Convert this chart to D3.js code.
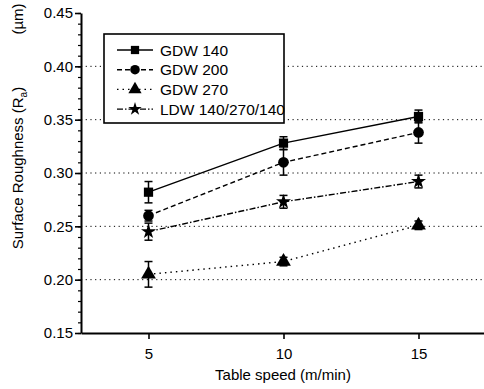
<!DOCTYPE html>
<html>
<head>
<meta charset="utf-8">
<script src="https://cdn.jsdelivr.net/npm/d3@7"></script>
<style>
  body { margin: 0; background: #fff; }
  svg text { font-family: "Liberation Sans", Arial, sans-serif; fill: #000; }
</style>
</head>
<body>
<svg id="chart" width="484" height="389"></svg>
<script>
const speeds = [5, 10, 15]
const seriesNames = ['GDW 140', 'GDW 200', 'GDW 270', 'LDW 140/270/140']
const gdw140 = [0.282, 0.328, 0.353]
const gdw140Err = [0.010, 0.006, 0.006]
const gdw200 = [0.260, 0.310, 0.338]
const gdw200Err = [0.005, 0.012, 0.010]
const gdw270 = [0.205, 0.217, 0.251]
const gdw270Err = [0.012, 0.004, 0.004]
const ldw = [0.245, 0.273, 0.292]
const ldwErr = [0.008, 0.006, 0.006]
const yTicks = [0.15, 0.20, 0.25, 0.30, 0.35, 0.40, 0.45]
const gridValues = [0.20, 0.25, 0.30, 0.35, 0.40]
const xTicks = [5, 10, 15]

const svg = d3.select('#chart')
const margin = { left: 81, top: 13, right: 0, bottom: 56 }
const width = 484, height = 389

const x = d3.scaleLinear().domain([2.5, 17.5]).range([margin.left, 486])
const y = d3.scaleLinear().domain([0.15, 0.45]).range([height - margin.bottom, margin.top])

const series = [
    { name: seriesNames[0], values: gdw140, err: gdw140Err, dash: null, symbol: d3.symbolSquare, size: 85 },
    { name: seriesNames[1], values: gdw200, err: gdw200Err, dash: '5,3', symbol: d3.symbolCircle, size: 90 },
    { name: seriesNames[2], values: gdw270, err: gdw270Err, dash: '1.5,4', symbol: d3.symbolTriangle, size: 95 },
    { name: seriesNames[3], values: ldw, err: ldwErr, dash: '6,2,1.5,2', symbol: d3.symbolStar, size: 70 }
]

// dotted grid lines
svg.append('g')
    .selectAll('line')
    .data(gridValues)
    .join('line')
    .attr('x1', margin.left)
    .attr('x2', width)
    .attr('y1', d => y(d))
    .attr('y2', d => y(d))
    .attr('stroke', '#000')
    .attr('stroke-width', 1)
    .attr('stroke-dasharray', '1.2,3.5')

// y axis: minor ticks first, then major ticks with labels
const yMinor = d3.range(15, 46).map(v => v / 100)
svg.append('g')
    .attr('transform', `translate(${margin.left},0)`)
    .call(d3.axisLeft(y).tickValues(yMinor).tickSize(3).tickFormat(''))
    .call(g => g.select('.domain').remove())
    .selectAll('line').attr('stroke-width', 1.2)

const yAxis = svg.append('g')
    .attr('transform', `translate(${margin.left},0)`)
    .call(d3.axisLeft(y).tickValues(yTicks).tickSize(6).tickSizeOuter(0).tickFormat(d3.format('.2f')))
yAxis.select('.domain').attr('stroke-width', 2)
yAxis.selectAll('line').attr('stroke-width', 1.6)
yAxis.selectAll('text').attr('font-size', 15).attr('x', -8)

const xAxis = svg.append('g')
    .attr('transform', `translate(0,${y(0.15)})`)
    .call(d3.axisBottom(x).tickValues(xTicks).tickSize(6).tickSizeOuter(0))
xAxis.select('.domain').attr('stroke-width', 2)
xAxis.selectAll('line').attr('stroke-width', 1.6)
xAxis.selectAll('text').attr('font-size', 15).attr('dy', '1.1em')

// axis titles
const yTitle = svg.append('text')
    .attr('transform', 'translate(23,168) rotate(-90)')
    .attr('text-anchor', 'middle')
    .attr('font-size', 15)
yTitle.append('tspan').text('Surface Roughness (R')
yTitle.append('tspan').attr('font-size', 10).attr('dy', 4).text('a')
yTitle.append('tspan').attr('dy', -4).text(')')

svg.append('text')
    .attr('transform', 'translate(23,19) rotate(-90)')
    .attr('text-anchor', 'middle')
    .attr('font-size', 15)
    .text('(\u00b5m)')

svg.append('text')
    .attr('x', 283)
    .attr('y', 380)
    .attr('text-anchor', 'middle')
    .attr('font-size', 15)
    .text('Table speed (m/min)')

// series lines
const line = d3.line().x((d, i) => x(speeds[i])).y(d => y(d))
const gSeries = svg.append('g')
gSeries.selectAll('path.series-line')
    .data(series)
    .join('path')
    .attr('class', 'series-line')
    .attr('d', d => line(d.values))
    .attr('fill', 'none')
    .attr('stroke', '#000')
    .attr('stroke-width', 1.4)
    .attr('stroke-dasharray', d => d.dash)

// error bars and markers
series.forEach(s => {
    const g = gSeries.append('g')
    const pts = s.values.map((v, i) => ({ x: speeds[i], v, e: s.err[i] }))
    g.selectAll('line.err')
        .data(pts)
        .join('line')
        .attr('x1', d => x(d.x)).attr('x2', d => x(d.x))
        .attr('y1', d => y(d.v - d.e)).attr('y2', d => y(d.v + d.e))
        .attr('stroke', '#000').attr('stroke-width', 1.5)
    g.selectAll('line.cap')
        .data(pts.flatMap(d => [d.v - d.e, d.v + d.e].map(c => ({ x: d.x, c }))))
        .join('line')
        .attr('x1', d => x(d.x) - 4).attr('x2', d => x(d.x) + 4)
        .attr('y1', d => y(d.c)).attr('y2', d => y(d.c))
        .attr('stroke', '#000').attr('stroke-width', 1.5)
    g.selectAll('path.marker')
        .data(pts)
        .join('path')
        .attr('transform', d => `translate(${x(d.x)},${y(d.v)})`)
        .attr('d', d3.symbol().type(s.symbol).size(s.size))
        .attr('fill', '#000')
})

// legend
const legend = svg.append('g').attr('transform', 'translate(104,34)')
legend.append('rect')
    .attr('width', 180).attr('height', 89)
    .attr('fill', '#fff').attr('stroke', '#000').attr('stroke-width', 1.6)
const items = legend.selectAll('g.item')
    .data(series)
    .join('g')
    .attr('transform', (d, i) => `translate(0,${16 + i * 19.7})`)
items.append('line')
    .attr('x1', 13).attr('x2', 49)
    .attr('stroke', '#000').attr('stroke-width', 1.4)
    .attr('stroke-dasharray', d => d.dash)
items.append('path')
    .attr('transform', 'translate(31,0)')
    .attr('d', d => d3.symbol().type(d.symbol).size(d.size * 0.8)())
    .attr('fill', '#000')
items.append('text')
    .attr('x', 56).attr('dy', '0.36em')
    .attr('font-size', 15.5)
    .text(d => d.name)
</script>
</body>
</html>
